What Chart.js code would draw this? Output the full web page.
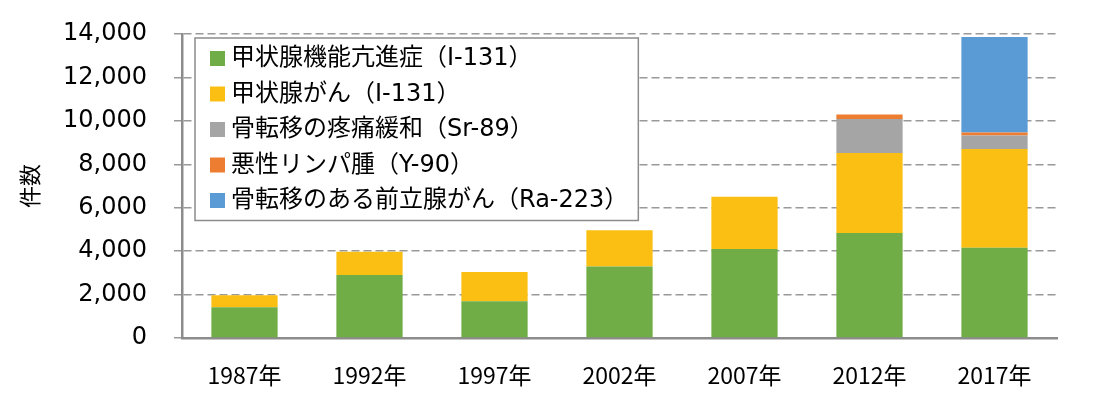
<!DOCTYPE html>
<html lang="ja">
<head>
<meta charset="utf-8">
<script src="https://cdn.jsdelivr.net/npm/chart.js@4/dist/chart.umd.min.js"></script>
<style>
  body { margin: 0; background: #fff; }
  canvas { display: block; }
</style>
</head>
<body>
<canvas id="chart" width="1095" height="399"></canvas>
<script>
// categories and series (件数)
const years = ['1987年', '1992年', '1997年', '2002年', '2007年', '2012年', '2017年'];
const hyperthyroid = [1420, 2900, 1690, 3290, 4100, 4840, 4160];
const thyroidCancer = [550, 1070, 1350, 1670, 2400, 3680, 4540];
const bonePain = [0, 0, 0, 0, 0, 1570, 620];
const lymphoma = [0, 0, 0, 0, 0, 200, 140];
const prostate = [0, 0, 0, 0, 0, 0, 4400];
const seriesLabels = [
    '甲状腺機能亢進症（I-131）',
    '甲状腺がん（I-131）',
    '骨転移の疼痛緩和（Sr-89）',
    '悪性リンパ腫（Y-90）',
    '骨転移のある前立腺がん（Ra-223）'
];
const seriesColors = ['#70AD47', '#FBBF14', '#A5A5A5', '#ED7D31', '#5B9BD5'];

const yTickValues = [0, 2000, 4000, 6000, 8000, 10000, 12000, 14000];

const fontJP = '"DejaVu Sans", "Noto Sans CJK JP", sans-serif';

// legend box drawn inside the plot area, on top of the grid
const boxLegend = {
    id: 'boxLegend',
    afterDatasetsDraw(chart) {
        const ctx = chart.ctx;
        const area = chart.chartArea;
        const left = area.left + 13;
        const top = area.top + 4;
        const rowH = 35.5;
        ctx.save();
        ctx.font = '24px ' + fontJP;
        let maxW = 0;
        chart.data.datasets.forEach(ds => {
            maxW = Math.max(maxW, ctx.measureText(ds.label).width);
        });
        const w = 36 + maxW + 10;
        const h = rowH * chart.data.datasets.length + 5;
        ctx.fillStyle = '#fff';
        ctx.fillRect(left, top, w, h);
        ctx.strokeStyle = '#8c8c8c';
        ctx.lineWidth = 1.5;
        ctx.strokeRect(left, top, w, h);
        ctx.textBaseline = 'middle';
        chart.data.datasets.forEach((ds, i) => {
            const cy = top + 20 + i * rowH;
            ctx.fillStyle = ds.backgroundColor;
            ctx.fillRect(left + 15, cy - 7, 15, 15);
            ctx.fillStyle = '#000';
            ctx.fillText(ds.label, left + 36, cy + 1);
        });
        ctx.restore();
    }
};

const seriesData = [hyperthyroid, thyroidCancer, bonePain, lymphoma, prostate];

new Chart(document.getElementById('chart'), {
    type: 'bar',
    data: {
        labels: years,
        datasets: seriesData.map((vals, i) => ({
            label: seriesLabels[i],
            data: vals,
            backgroundColor: seriesColors[i],
            borderWidth: 0,
            categoryPercentage: 1,
            barPercentage: 0.53
        }))
    },
    options: {
        responsive: false,
        animation: false,
        layout: { padding: { top: 34, right: 38, left: 0, bottom: 0 } },
        plugins: {
            legend: { display: false },
            tooltip: { enabled: false }
        },
        scales: {
            x: {
                stacked: true,
                grid: { display: false, drawTicks: false },
                border: { color: '#8c8c8c', width: 2.5 },
                ticks: {
                    color: '#000',
                    padding: 23,
                    font: { family: '"Liberation Sans Narrow", "Noto Sans CJK JP", sans-serif', size: 23 }
                },
                afterFit(axis) { axis.height = 61; axis.paddingLeft = 0; axis.paddingRight = 0; }
            },
            y: {
                stacked: true,
                min: 0,
                max: 14000,
                afterBuildTicks(axis) {
                    axis.ticks = yTickValues.map(v => ({ value: v }));
                },
                grid: {
                    color: '#999',
                    lineWidth: 1.5,
                    tickLength: 8,
                    tickColor: '#999'
                },
                border: { color: '#8c8c8c', width: 2.5, dash: [8, 4] },
                ticks: {
                    color: '#000',
                    padding: 27,
                    font: { family: fontJP, size: 24 },
                    callback: v => v.toLocaleString('en-US')
                },
                title: {
                    display: true,
                    text: '件数',
                    color: '#000',
                    padding: { top: 16, bottom: 0 },
                    font: { family: '"Noto Sans CJK JP", sans-serif', size: 22 }
                },
                afterFit(axis) { axis.width = 182; axis.paddingTop = 0; axis.paddingBottom = 0; }
            }
        }
    },
    plugins: [boxLegend]
});
</script>
</body>
</html>
